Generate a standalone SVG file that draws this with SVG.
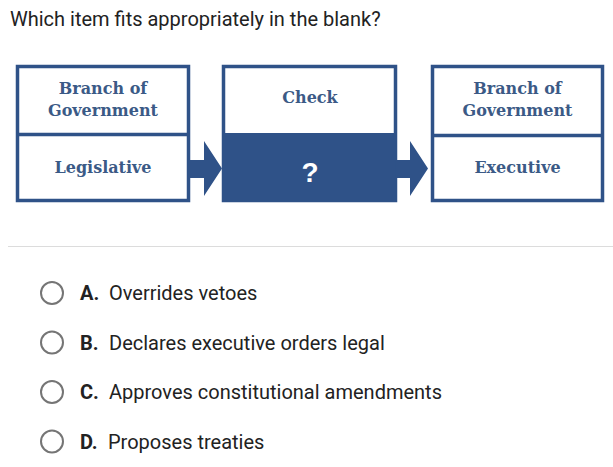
<svg xmlns="http://www.w3.org/2000/svg" width="613" height="467" viewBox="0 0 613 467">
<style>
.box{fill:#fff;stroke:#2f5288;stroke-width:3.5}
.div{stroke:#2f5288;stroke-width:3.5}
.lbl{font-family:"DejaVu Serif",serif;font-size:16px;fill:#3b5a86;text-anchor:middle;font-weight:600}
.q{font-family:Roboto,"Liberation Sans",sans-serif;fill:#222}
.opt{font-family:Roboto,"Liberation Sans",sans-serif;font-size:20px;fill:#222}
.let{font-weight:bold}
.radio{fill:#fff;stroke:#757575;stroke-width:2}
.arrow{fill:#2f5288}
</style>
<rect width="613" height="467" fill="#fff"/>
<text class="q" x="10" y="26" font-size="20">Which item fits appropriately in the blank?</text>
<g id="node-left">
<rect class="box" x="17.5" y="66.5" width="171" height="134"/>
<line class="div" x1="17.5" y1="134.5" x2="188.5" y2="134.5"/>
<text class="lbl" x="103" y="94">Branch of</text>
<text class="lbl" x="103" y="116">Government</text>
<text class="lbl" x="103" y="173">Legislative</text>
</g>
<g id="node-check">
<rect class="box" x="223.5" y="66.5" width="172" height="134"/>
<rect x="223.5" y="133" width="172" height="67.5" fill="#2f5288"/>
<text class="lbl" x="310" y="103">Check</text>
<text x="310" y="182" font-family="'Liberation Sans',sans-serif" font-size="28" font-weight="bold" fill="#fff" text-anchor="middle">?</text>
</g>
<g id="node-right">
<rect class="box" x="432.5" y="66.5" width="170" height="134"/>
<line class="div" x1="432.5" y1="135.5" x2="602.5" y2="135.5"/>
<text class="lbl" x="517.5" y="94">Branch of</text>
<text class="lbl" x="517.5" y="116">Government</text>
<text class="lbl" x="517.5" y="173">Executive</text>
</g>
<g id="connectors">
<polygon class="arrow" points="190,160 204,160 204,141 222,168.5 204,196 204,178 190,178"/>
<polygon class="arrow" points="397,160 410,160 410,141 428,168.5 410,196 410,178 397,178"/>
</g>
<line x1="8" y1="246.5" x2="613" y2="246.5" stroke="#dcdcdc" stroke-width="1"/>
<g id="options">
<circle class="radio" cx="52" cy="293" r="11"/>
<text class="opt" x="80" y="300"><tspan class="let">A.</tspan><tspan x="109">Overrides vetoes</tspan></text>
<circle class="radio" cx="52" cy="342.5" r="11"/>
<text class="opt" x="80" y="349.5"><tspan class="let">B.</tspan><tspan x="109">Declares executive orders legal</tspan></text>
<circle class="radio" cx="52" cy="392" r="11"/>
<text class="opt" x="80" y="399"><tspan class="let">C.</tspan><tspan x="109">Approves constitutional amendments</tspan></text>
<circle class="radio" cx="52" cy="441.5" r="11"/>
<text class="opt" x="80" y="448.5"><tspan class="let">D.</tspan><tspan x="108">Proposes treaties</tspan></text>
</g>
</svg>
